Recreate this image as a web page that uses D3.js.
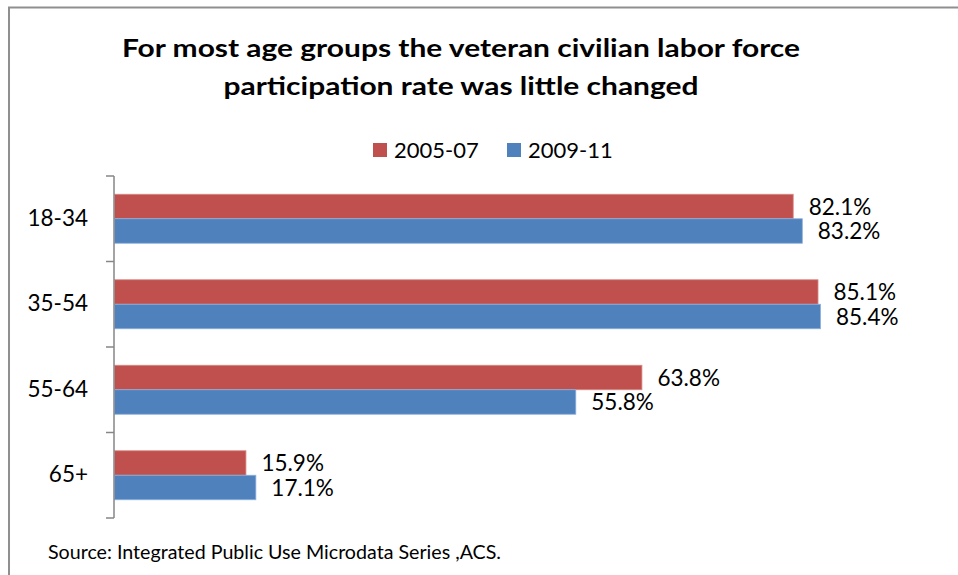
<!DOCTYPE html>
<html>
<head>
<meta charset="utf-8">
<script src="https://cdnjs.cloudflare.com/ajax/libs/d3/7.8.5/d3.min.js"></script>
<style>
  body { margin: 0; background: #fff; }
  svg { display: block; font-family: Lato, "Open Sans", sans-serif; }
</style>
</head>
<body>
<div id="chart"></div>
<script>
// chart data
var categories = ["18-34", "35-54", "55-64", "65+"];
var seriesNames = ["2005-07", "2009-11"];
var values0507 = [82.1, 85.1, 63.8, 15.9];
var values0911 = [83.2, 85.4, 55.8, 17.1];
var seriesColors = ["#C0504D", "#4F81BD"];
var strokeColors = ["#D88A88", "#8DB0DC"];

var titleLines = ["For most age groups the veteran civilian labor force",
                  "participation rate was little changed"];
var sourceText = "Source: Integrated Public Use Microdata Series ,ACS.";

function createChart(DOMElement) {
  var W = 958, H = 575;
  var svg = d3.select(DOMElement).append("svg")
      .attr("width", W)
      .attr("height", H);

  // frame (only top and left edges visible in the crop)
  svg.append("path")
      .attr("d", "M9,575 L9,7.5 L958,7.5")
      .attr("fill", "none")
      .attr("stroke", "#8f8f8f")
      .attr("stroke-width", 2);

  // title
  var title = svg.append("g");
  title.selectAll("text")
      .data(titleLines)
      .enter().append("text")
      .attr("x", 461)
      .attr("y", function(d, i) { return 57 + i * 38; })
      .attr("text-anchor", "middle")
      .attr("font-weight", "bold")
      .attr("font-size", 25)
      .attr("fill", "#000")
      .attr("textLength", function(d, i) { return i == 0 ? 678 : 475; })
      .attr("lengthAdjust", "spacingAndGlyphs")
      .text(function(d) { return d; });

  // scales
  var x = d3.scaleLinear().domain([0, 100]).range([114, 940.7]);
  var y0 = d3.scaleBand().domain(categories).range([176, 518]).padding(0);
  var y1 = d3.scaleBand().domain(seriesNames).range([0, y0.bandwidth()])
      .paddingInner(0).paddingOuter(0.745);

  var rows = [];
  categories.forEach(function(c, i) {
    rows.push({cat: c, s: 0, name: seriesNames[0], value: values0507[i]});
    rows.push({cat: c, s: 1, name: seriesNames[1], value: values0911[i]});
  });

  // bars
  var bar = svg.selectAll(".bar")
      .data(rows)
      .enter().append("g")
      .attr("class", "bar");

  bar.append("rect")
      .attr("x", x(0) + 0.5)
      .attr("y", function(d) { return y0(d.cat) + y1(d.name); })
      .attr("width", function(d) { return x(d.value) - x(0); })
      .attr("height", y1.bandwidth())
      .attr("fill", function(d) { return seriesColors[d.s]; })
      .attr("stroke", function(d) { return strokeColors[d.s]; })
      .attr("stroke-width", 0.8);

  var fmt = function(v) { return d3.format(".1f")(v) + "%"; };
  bar.append("text")
      .attr("x", function(d) { return x(d.value) + 16; })
      .attr("y", function(d) { return y0(d.cat) + y1(d.name) + y1.bandwidth() / 2; })
      .attr("dy", "0.36em")
      .attr("font-size", 22.5)
      .attr("fill", "#000")
      .text(function(d) { return fmt(d.value); });

  // category axis
  var yAxis = d3.axisLeft(y0).tickSize(0).tickPadding(26);
  var axisG = svg.append("g")
      .attr("transform", "translate(" + x(0) + ",0)")
      .call(yAxis);
  axisG.select(".domain").remove();
  axisG.selectAll("text")
      .attr("font-family", "Lato, 'Open Sans', sans-serif")
      .attr("font-size", 22.5)
      .attr("fill", "#000");

  // axis line with boundary ticks
  var bounds = categories.map(function(c) { return y0(c); }).concat([y0.range()[1]]);
  svg.append("line")
      .attr("x1", x(0)).attr("x2", x(0))
      .attr("y1", bounds[0]).attr("y2", bounds[bounds.length - 1])
      .attr("stroke", "#868686").attr("stroke-width", 1.5);
  svg.selectAll(".btick")
      .data(bounds)
      .enter().append("line")
      .attr("class", "btick")
      .attr("x1", x(0) - 8).attr("x2", x(0))
      .attr("y1", function(d) { return d; })
      .attr("y2", function(d) { return d; })
      .attr("stroke", "#868686").attr("stroke-width", 1.5);

  // legend
  var legendX = [373, 507];
  var legend = svg.selectAll(".legend")
      .data(seriesNames)
      .enter().append("g")
      .attr("class", "legend")
      .attr("transform", function(d, i) { return "translate(" + legendX[i] + ",143)"; });
  legend.append("rect")
      .attr("width", 14)
      .attr("height", 14)
      .attr("fill", function(d, i) { return seriesColors[i]; });
  legend.append("text")
      .attr("x", 21)
      .attr("y", 7)
      .attr("dy", "0.36em")
      .attr("font-size", 22)
      .attr("fill", "#000")
      .text(function(d) { return d; });

  // source note
  svg.append("text")
      .attr("x", 48)
      .attr("y", 559)
      .attr("font-size", 18.5)
      .attr("fill", "#000")
      .attr("textLength", 453)
      .attr("lengthAdjust", "spacingAndGlyphs")
      .text(sourceText);
}

createChart("#chart");
</script>
</body>
</html>
